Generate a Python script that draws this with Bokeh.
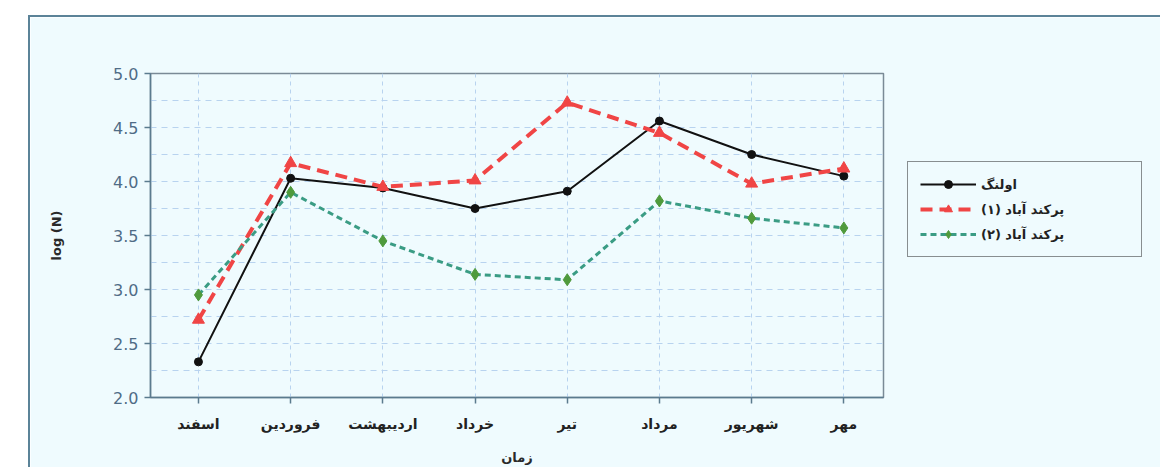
from bokeh.plotting import figure
from bokeh.models import Range1d, FixedTicker, Legend, LegendItem, CustomJSTickFormatter
from bokeh.embed import file_html
from bokeh.resources import INLINE

months = ["اسفند", "فروردین", "اردیبهشت", "خرداد", "تیر", "مرداد", "شهریور", "مهر"]
olang = [2.33, 4.03, 3.94, 3.75, 3.91, 4.56, 4.25, 4.05]
parkand1 = [2.72, 4.17, 3.95, 4.01, 4.73, 4.45, 3.98, 4.12]
parkand2 = [2.95, 3.90, 3.45, 3.14, 3.09, 3.82, 3.66, 3.57]
series_names = ["اولنگ", "پرکند آباد (۱)", "پرکند آباد (۲)"]
y_ticks = [2.0, 2.5, 3.0, 3.5, 4.0, 4.5, 5.0]
y_minor = [2.25, 2.75, 3.25, 3.75, 4.25, 4.75]

xs = list(range(len(months)))
bg = "#effbfe"

p = figure(frame_width=733, frame_height=324,
           min_border_left=120, min_border_top=56, min_border_right=259, min_border_bottom=70,
           x_range=Range1d(-0.52, len(months) - 1 + 0.43), y_range=Range1d(2.0, 5.0),
           output_backend="svg", toolbar_location=None,
           background_fill_color=bg, border_fill_color=bg)
p.styles = {"border-left": "2px solid #5b8398", "border-top": "2px solid #5b8398",
            "border-right": "2px solid #5b8398", "margin-left": "28px", "margin-top": "15px"}

p.outline_line_color = "#7a8a96"
p.outline_line_width = 1.5

# axes
p.xaxis.ticker = FixedTicker(ticks=xs)
p.xaxis.major_label_overrides = {i: m for i, m in enumerate(months)}
p.yaxis.ticker = FixedTicker(ticks=y_ticks, minor_ticks=y_minor)
p.yaxis.formatter = CustomJSTickFormatter(code="return tick.toFixed(1);")
for ax in (p.xaxis[0], p.yaxis[0]):
    ax.axis_line_color = "#5b7b8e"
    ax.axis_line_width = 1.5
    ax.major_tick_line_color = "#5b7b8e"
    ax.major_tick_line_width = 1.5
    ax.major_tick_out = 6
    ax.major_tick_in = 0
    ax.minor_tick_line_color = None
    ax.axis_label_text_font = "DejaVu Sans"
    ax.axis_label_text_font_style = "bold"
    ax.axis_label_text_font_size = "13px"
    ax.axis_label_text_color = "#2a2a2a"
p.yaxis.major_label_text_color = "#4f6c86"
p.yaxis.major_label_text_font_size = "16px"
p.yaxis.major_label_text_font = "DejaVu Sans"
p.yaxis.major_label_standoff = 6
p.xaxis.major_label_text_color = "#222222"
p.xaxis.major_label_text_font_size = "14px"
p.xaxis.major_label_text_font = "DejaVu Sans"
p.xaxis.major_label_text_font_style = "bold"
p.xaxis.major_label_standoff = 12
p.yaxis.axis_label = "log (N)"
p.xaxis.axis_label = "زمان"
p.xaxis.axis_label_standoff = 15
p.yaxis.axis_label_standoff = 46

# grid
p.xgrid.grid_line_color = "#b8d3ef"
p.xgrid.grid_line_dash = "4 4"
p.xgrid.grid_line_width = 1
p.ygrid.grid_line_color = "#b8d3ef"
p.ygrid.grid_line_dash = "6 5"
p.ygrid.grid_line_width = 1
p.ygrid.minor_grid_line_color = "#b8d3ef"
p.ygrid.minor_grid_line_dash = "6 5"
p.ygrid.minor_grid_line_width = 1

# series
l1 = p.line(xs, olang, line_color="#111111", line_width=2)
s1 = p.scatter(xs, olang, marker="circle", size=8, fill_color="#111111", line_color="#111111")
l2 = p.line(xs, parkand1, line_color="#f04545", line_width=4, line_dash="12 7")
s2 = p.scatter(xs, parkand1, marker="triangle", size=12, fill_color="#f04545", line_color="#f04545")
l3 = p.line(xs, parkand2, line_color="#3a9c84", line_width=3, line_dash="6 4")
s3 = p.scatter(xs, parkand2, marker="diamond", size=12, fill_color="#4f9a3c", line_color="#4f9a3c")

legend = Legend(items=[LegendItem(label=series_names[0], renderers=[l1, s1]),
                       LegendItem(label=series_names[1], renderers=[l2, s2]),
                       LegendItem(label=series_names[2], renderers=[l3, s3])],
                location=(24, 140))
legend.border_line_color = "#222222"
legend.border_line_width = 1.5
legend.background_fill_color = bg
legend.background_fill_alpha = 1
legend.label_text_font = "DejaVu Sans"
legend.label_text_font_size = "13px"
legend.label_text_font_style = "bold"
legend.label_text_color = "#222222"
legend.glyph_width = 56
legend.label_width = 148
legend.spacing = 5
legend.padding = 12
legend.margin = 0
p.add_layout(legend, "right")

open("out.html", "w").write(file_html(p, INLINE))
